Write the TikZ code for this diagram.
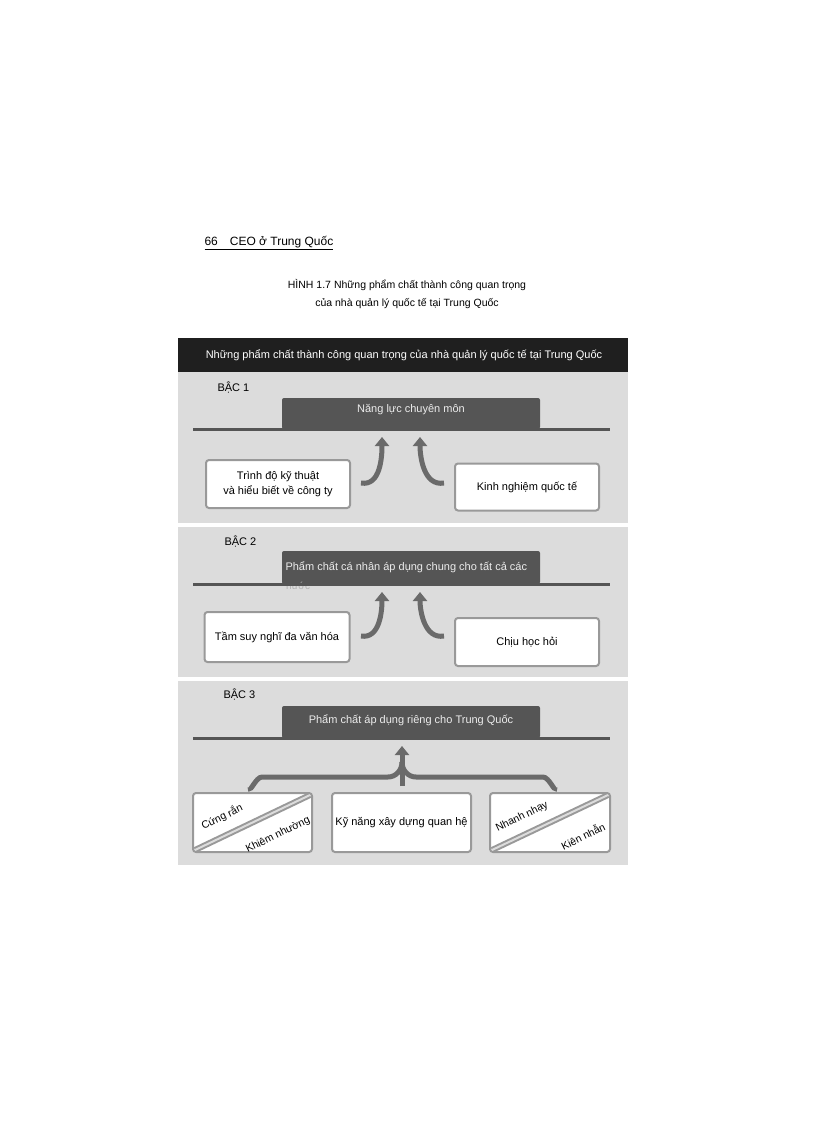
\documentclass[tikz,border=0pt]{standalone}
\usepackage{fontspec}
\setmainfont{Liberation Sans}
\usetikzlibrary{arrows.meta,calc}
\definecolor{panel}{HTML}{DCDCDC}
\definecolor{tabc}{HTML}{555555}
\definecolor{arr}{HTML}{6A6A6A}
\tikzset{
 panelbg/.style={fill=panel,draw=none},
 tabbox/.style={fill=tabc,draw=none,rounded corners=2pt},
 baseline/.style={draw=tabc,line width=3pt},
 whitebox/.style={draw=gray!80,line width=2pt,fill=white,rounded corners=3pt,align=center,font=\fontsize{11}{15}\selectfont},
 lvl/.style={font=\fontsize{11}{13}\selectfont,anchor=west},
 tabtxt/.style={text=white!85!gray,font=\fontsize{11}{13}\selectfont},
 diag/.style={rotate=26,font=\fontsize{10.5}{12}\selectfont,inner sep=1pt},
 bigarrow/.style={draw=arr,line width=5pt,-{Triangle[length=9pt,width=14pt]}}
}
\begin{document}
\begin{tikzpicture}[x=1pt,y=-1pt]
\useasboundingbox (0,0) rectangle (816,1123);
% header
\node[anchor=west,font=\fontsize{12}{14}\selectfont\rmfamily] (hdr) at (201,243) {\underline{66\quad CEO ở Trung Quốc}};
\node[align=center,font=\fontsize{10.5}{18}\selectfont] (title) at (407,294) {HÌNH 1.7 Những phẩm chất thành công quan trọng\\của nhà quản lý quốc tế tại Trung Quốc};
% black bar
\fill[black!88] (178,338) rectangle (628,372);
\node[text=white,font=\fontsize{11}{13}\selectfont] (bar) at (404,355) {Những phẩm chất thành công quan trọng của nhà quản lý quốc tế tại Trung Quốc};
% panels
\fill[panelbg] (178,372) rectangle (628,523);
\fill[panelbg] (178,527) rectangle (628,677);
\fill[panelbg] (178,681) rectangle (628,865);
% level 1
\node[lvl] (l1) at (214,388) {BẬC 1};
\fill[tabbox] (282,398) rectangle (540,429);
\node[tabtxt] (t1) at (411,410) {Năng lực chuyên môn};
\draw[baseline] (193,429) -- (610,429);
\node[whitebox,minimum width=144pt,minimum height=48pt] (b1l) at (278,484) {Trình độ kỹ thuật\\và hiểu biết về công ty};
\node[whitebox,minimum width=144pt,minimum height=47pt] (b1r) at (527,487) {Kinh nghiệm quốc tế};
\coordinate (a1s) at (361,483); \coordinate (a1e) at (382,437);
\coordinate (a2s) at (444,483); \coordinate (a2e) at (420,437);
\draw[bigarrow] (a1s) to[out=-10,in=-90] (a1e);
\draw[bigarrow] (a2s) to[out=190,in=-90] (a2e);
% level 2
\node[lvl] (l2) at (221,542) {BẬC 2};
\fill[tabbox] (282,551) rectangle (540,584);
\node[tabtxt,anchor=west] (t2) at (282,567) {Phẩm chất cá nhân áp dụng chung cho tất cả các};
\node[anchor=west,text=gray!60,font=\fontsize{10}{12}\selectfont,inner sep=0] (t2b) at (286,586) {nước};
\draw[baseline] (193,584) -- (610,584);
\node[whitebox,minimum width=145pt,minimum height=50pt] (b2l) at (277,637) {Tầm suy nghĩ đa văn hóa};
\node[whitebox,minimum width=144pt,minimum height=48pt] (b2r) at (527,642) {Chịu học hỏi};
\coordinate (a3s) at (361,636); \coordinate (a3e) at (382,592);
\coordinate (a4s) at (444,636); \coordinate (a4e) at (420,592);
\draw[bigarrow] (a3s) to[out=-10,in=-90] (a3e);
\draw[bigarrow] (a4s) to[out=190,in=-90] (a4e);
% level 3
\node[lvl] (l3) at (220,695) {BẬC 3};
\fill[tabbox] (282,706) rectangle (540,738);
\node[tabtxt] (t3) at (411,720) {Phẩm chất áp dụng riêng cho Trung Quốc};
\draw[baseline] (193,738) -- (610,738);
\coordinate (brL) at (250,787); \coordinate (brR) at (555,787);
\coordinate (brM) at (402,746); \coordinate (brB) at (402,786);
\draw[draw=arr,line width=5pt] (brL) to[out=-90,in=180] (262,777) -- (388,777) to[out=0,in=-90] (402,762);
\draw[draw=arr,line width=5pt] (brR) to[out=-90,in=0] (543,777) -- (416,777) to[out=180,in=-90] (402,762);
\draw[bigarrow] (brB) -- (brM);
\node[whitebox,minimum width=119pt,minimum height=59pt] (b3l) at (252.5,822.5) {};
\node[whitebox,minimum width=139pt,minimum height=59pt] (b3m) at (401.5,822.5) {Kỹ năng xây dựng quan hệ};
\node[whitebox,minimum width=120pt,minimum height=59pt] (b3r) at (550,822.5) {};
\draw[line width=6pt,draw=gray!80] ([shift={(3,-3)}]b3l.south west) -- ([shift={(-3,3)}]b3l.north east);
\draw[line width=2pt,draw=panel] ([shift={(3,-3)}]b3l.south west) -- ([shift={(-3,3)}]b3l.north east);
\draw[line width=6pt,draw=gray!80] ([shift={(3,-3)}]b3r.south west) -- ([shift={(-3,3)}]b3r.north east);
\draw[line width=2pt,draw=panel] ([shift={(3,-3)}]b3r.south west) -- ([shift={(-3,3)}]b3r.north east);
\node[diag] (c1) at (222,817) {Cứng rắn};
\node[diag] (c2) at (278,835) {Khiêm nhường};
\node[diag] (c3) at (522,817) {Nhanh nhạy};
\node[diag] (c4) at (583,836) {Kiên nhẫn};
\end{tikzpicture}
\end{document}
